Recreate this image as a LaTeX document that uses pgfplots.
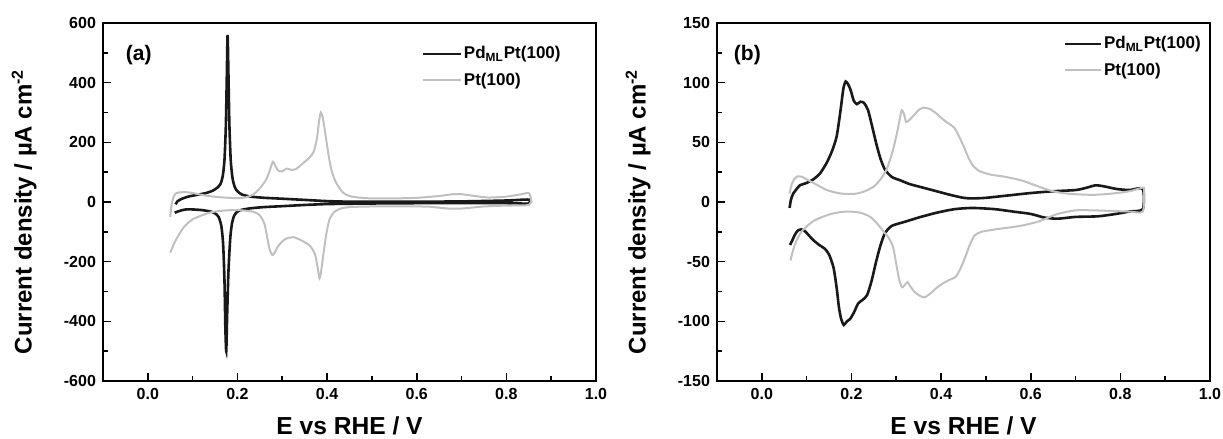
\documentclass[border=0pt]{standalone}
\usepackage{fontspec}
\setmainfont{Liberation Sans}
\usepackage{pgfplots}
\pgfplotsset{compat=1.18}
\definecolor{cvblack}{RGB}{25,25,25}
\definecolor{cvgray}{RGB}{192,192,192}
\pgfplotsset{
  cvaxis/.style={
    width=246.5pt, height=179pt, scale only axis,
    xmin=-0.1, xmax=1.0,
    xtick={0,0.2,0.4,0.6,0.8,1.0},
    minor xtick={-0.1,0.1,0.3,0.5,0.7,0.9},
    tick align=inside, tick pos=left,
    major tick length=4pt, minor tick length=2.5pt,
    tick style={black, line width=0.8pt},
    axis line style={line width=1pt},
    /pgf/number format/assume math mode=true,
    ticklabel style={font=\fontsize{8}{9.6}\selectfont\bfseries},
    xticklabel style={/pgf/number format/.cd, fixed, fixed zerofill, precision=1},
    yticklabel style={/pgf/number format/.cd, fixed, precision=0},
    xlabel={E vs RHE / V},
    ylabel={Current density / µA cm\textsuperscript{-2}},
    every axis x label/.style={at={(axis description cs:0.5,-0.150)}, anchor=base,
      inner sep=0pt, font=\fontsize{12.3}{14}\selectfont\bfseries},
    every axis y label/.style={at={(axis description cs:-0.16,0.473)}, rotate=90, anchor=center,
      font=\fontsize{12}{14}\selectfont\bfseries},
    legend cell align=left,
    legend style={draw=none, fill=none, inner sep=0pt, row sep=3.5pt,
      font=\fontsize{8.5}{10}\selectfont\bfseries, nodes={inner sep=1pt}},
  },
  pdline/.style={cvblack, line width=1.3pt, smooth, tension=0.4},
  ptline/.style={cvgray, line width=1pt, smooth, tension=0.4},
}

\begin{document}
\begin{tikzpicture}
\useasboundingbox (-51.5pt,-29pt) rectangle (560pt,190.5pt);

% (a)
\begin{axis}[cvaxis, at={(0,0)}, anchor=south west,
  ymin=-600, ymax=600,
  ytick={-600,-400,-200,0,200,400,600},
  minor ytick={-500,-300,-100,100,300,500},
  legend style={at={(axis description cs:0.645,0.941)}, anchor=north west},
  legend image code/.code={\draw[#1] (0pt,0pt) -- (19pt,0pt);},
]
\addplot[pdline] coordinates {
(0.062,-8) (0.066,2) (0.075,10) (0.09,18) (0.11,24) (0.13,30) (0.145,38) (0.155,48)
(0.162,60) (0.167,85) (0.171,140) (0.174,250) (0.176,400) (0.178,560) (0.180,420)
(0.182,260) (0.185,140) (0.189,80) (0.194,50) (0.20,36) (0.21,25) (0.23,18) (0.26,14)
(0.30,11) (0.35,7) (0.40,3) (0.45,1) (0.5,1) (0.6,1) (0.7,2) (0.8,5) (0.85,8)
(0.85,-5) (0.8,-4) (0.7,-4) (0.6,-4) (0.5,-5) (0.4,-7) (0.35,-10) (0.30,-14) (0.26,-17)
(0.23,-21) (0.21,-26) (0.20,-32) (0.193,-45) (0.188,-70) (0.184,-120) (0.180,-230)
(0.177,-380) (0.175,-500) (0.173,-420) (0.171,-260) (0.168,-140) (0.164,-80) (0.158,-50)
(0.15,-38) (0.14,-32) (0.12,-27) (0.10,-25) (0.085,-25) (0.075,-28) (0.065,-33) (0.06,-36)
};
\addlegendentry{Pd\textsubscript{ML}Pt(100)}
\addplot[ptline] coordinates {
(0.05,-50) (0.053,-10) (0.057,15) (0.062,28) (0.07,32) (0.085,33) (0.10,30) (0.12,24)
(0.14,19) (0.17,15) (0.20,13) (0.22,16) (0.235,25) (0.245,38) (0.255,55) (0.265,78)
(0.272,105) (0.279,135) (0.285,120) (0.291,105) (0.30,103) (0.31,112) (0.32,108)
(0.33,110) (0.345,128) (0.36,148) (0.37,168) (0.377,210) (0.382,270) (0.386,300)
(0.39,285) (0.396,230) (0.403,160) (0.41,105) (0.42,65) (0.435,32) (0.45,20) (0.47,15)
(0.5,12) (0.55,12) (0.6,14) (0.65,20) (0.68,26) (0.70,26) (0.73,20) (0.76,15) (0.8,18)
(0.83,25) (0.85,30) (0.855,8) (0.85,-10)
(0.8,-12) (0.75,-15) (0.70,-22) (0.67,-22) (0.63,-16) (0.6,-15) (0.5,-15) (0.45,-17)
(0.43,-22) (0.415,-35) (0.405,-60) (0.398,-110) (0.392,-172) (0.386,-240) (0.383,-256)
(0.379,-220) (0.373,-175) (0.362,-147) (0.35,-135) (0.339,-126) (0.325,-118) (0.31,-122)
(0.30,-132) (0.29,-150) (0.279,-178) (0.272,-160) (0.266,-115) (0.26,-72) (0.25,-45)
(0.236,-33) (0.21,-28) (0.19,-27) (0.16,-30) (0.14,-35) (0.12,-45) (0.10,-58) (0.09,-70)
(0.08,-85) (0.07,-108) (0.06,-135) (0.05,-170)
};
\addlegendentry{Pt(100)}
\node[anchor=west, font=\fontsize{10.5}{12}\selectfont\bfseries] at (axis description cs:0.032,0.911) {(a)};
\end{axis}

% (b)
\begin{axis}[cvaxis, at={(307pt,0)}, anchor=south west,
  ymin=-150, ymax=150,
  ytick={-150,-100,-50,0,50,100,150},
  minor ytick={-125,-75,-25,25,75,125},
  legend style={at={(axis description cs:0.702,0.969)}, anchor=north west},
  legend image code/.code={\draw[#1] (0pt,0pt) -- (18pt,0pt);},
]
\addplot[pdline] coordinates {
(0.062,-5) (0.065,2) (0.07,7) (0.078,11) (0.085,14) (0.10,16) (0.115,19) (0.13,24)
(0.145,33) (0.157,43) (0.167,55) (0.175,75) (0.182,95) (0.187,101) (0.192,99) (0.198,94)
(0.205,85) (0.212,82) (0.22,84) (0.228,83) (0.237,77) (0.247,62) (0.256,48) (0.265,36)
(0.275,27) (0.29,21) (0.31,18) (0.33,15) (0.36,12) (0.39,9) (0.42,6) (0.45,3.5) (0.47,3)
(0.5,3.5) (0.55,5.5) (0.6,7.5) (0.65,9) (0.7,10) (0.725,12) (0.745,14) (0.765,13)
(0.79,11) (0.82,10) (0.85,11)
(0.85,-6) (0.82,-8) (0.79,-10) (0.75,-12) (0.7,-12.5) (0.66,-14) (0.63,-13) (0.6,-10)
(0.56,-8) (0.52,-6) (0.47,-5) (0.43,-6) (0.39,-9) (0.35,-13) (0.32,-16.5) (0.29,-20)
(0.275,-26) (0.265,-36) (0.255,-50) (0.245,-66) (0.235,-78) (0.225,-82) (0.215,-85)
(0.205,-93) (0.197,-98) (0.19,-100) (0.183,-103) (0.177,-98) (0.172,-88) (0.167,-72)
(0.16,-55) (0.15,-44) (0.14,-39) (0.128,-36) (0.115,-32) (0.105,-28) (0.095,-24)
(0.088,-23) (0.08,-24) (0.073,-28) (0.067,-33) (0.063,-36)
};
\addlegendentry{Pd\textsubscript{ML}Pt(100)}
\addplot[ptline] coordinates {
(0.062,7) (0.066,14) (0.072,19) (0.08,21.5) (0.09,21) (0.105,18) (0.125,14) (0.145,10)
(0.17,7.5) (0.19,6.7) (0.21,7) (0.23,9) (0.25,13) (0.265,19) (0.278,27) (0.29,40)
(0.3,55) (0.307,68) (0.312,77) (0.317,74) (0.322,67) (0.33,69) (0.34,73) (0.35,77)
(0.36,79) (0.375,78) (0.39,74) (0.405,69) (0.42,65) (0.43,62) (0.44,55) (0.45,47)
(0.46,38) (0.47,31) (0.485,26) (0.51,23) (0.545,21) (0.58,18) (0.61,14) (0.64,10)
(0.67,7.5) (0.70,6.5) (0.74,6) (0.78,7) (0.82,9) (0.85,12) (0.853,10) (0.85,-8)
(0.82,-8) (0.78,-7.5) (0.74,-7) (0.7,-7) (0.66,-10) (0.62,-16) (0.59,-19) (0.56,-21)
(0.52,-23) (0.49,-25) (0.475,-28) (0.465,-35) (0.455,-45) (0.443,-56) (0.432,-63)
(0.42,-65) (0.405,-68) (0.39,-72) (0.375,-77) (0.362,-80) (0.35,-78) (0.34,-75)
(0.33,-70) (0.325,-67) (0.318,-70) (0.313,-71.5) (0.307,-66) (0.3,-52) (0.293,-38)
(0.283,-30) (0.27,-24) (0.255,-17) (0.24,-12) (0.22,-9) (0.195,-8) (0.175,-8.5)
(0.155,-10) (0.135,-12.5) (0.115,-16) (0.1,-20.5) (0.088,-25) (0.078,-32) (0.07,-40)
(0.064,-49)
};
\addlegendentry{Pt(100)}
\node[anchor=west, font=\fontsize{10.5}{12}\selectfont\bfseries] at (axis description cs:0.02,0.911) {(b)};
\end{axis}
\end{tikzpicture}
\end{document}
